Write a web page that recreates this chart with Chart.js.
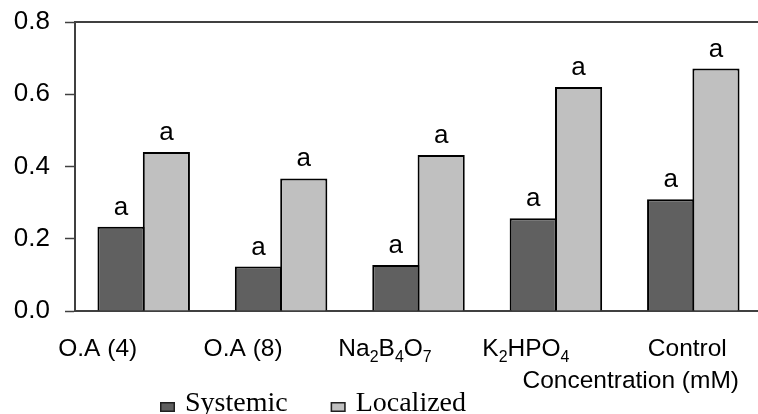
<!DOCTYPE html>
<html>
<head>
<meta charset="utf-8">
<script src="https://cdn.jsdelivr.net/npm/chart.js@4/dist/chart.umd.min.js"></script>
<style>
  html, body { margin: 0; padding: 0; background: #ffffff; overflow: hidden; }
  #wrap { width: 758px; height: 414px; overflow: hidden; position: relative; }
  canvas { display: block; }
</style>
</head>
<body>
<div id="wrap"><canvas id="chart" width="762" height="414"></canvas></div>
<script>
// Treatments on the x axis (subscripts written with Unicode digits)
const categories = ['O.A (4)', 'O.A (8)', 'Na₂B₄O₇', 'K₂HPO₄', 'Control'];

// Series values
const systemic = [0.233, 0.123, 0.127, 0.257, 0.309];
const localized = [0.440, 0.367, 0.432, 0.620, 0.671];

// Significance letters printed above each bar
const systemicLetters = ['a', 'a', 'a', 'a', 'a'];
const localizedLetters = ['a', 'a', 'a', 'a', 'a'];

// Y axis ticks
const yTicks = [0.0, 0.2, 0.4, 0.6, 0.8];

const axisTitle = 'Concentration (mM)';

const SANS = '"Liberation Sans", Arial, sans-serif';
const SERIF = '"Liberation Serif", "Times New Roman", serif';
const AXIS_GREY = '#404040';

const SUB = { '₀': '0', '₁': '1', '₂': '2', '₃': '3', '₄': '4', '₅': '5', '₆': '6', '₇': '7', '₈': '8', '₉': '9' };

// Split a label into normal / subscript runs
function runsOf(text) {
  const runs = [];
  for (const ch of text) {
    const sub = ch in SUB;
    const c = sub ? SUB[ch] : ch;
    const last = runs[runs.length - 1];
    if (last && last.sub === sub) last.text += c; else runs.push({ text: c, sub });
  }
  return runs;
}

function drawRich(ctx, text, cx, baseline, size) {
  const runs = runsOf(text);
  const subSize = size * 0.65;
  let total = 0;
  for (const r of runs) {
    ctx.font = (r.sub ? subSize : size) + 'px ' + SANS;
    r.w = ctx.measureText(r.text).width;
    total += r.w;
  }
  let x = cx - total / 2;
  ctx.textAlign = 'left';
  ctx.textBaseline = 'alphabetic';
  for (const r of runs) {
    ctx.font = (r.sub ? subSize : size) + 'px ' + SANS;
    ctx.fillText(r.text, x, baseline + (r.sub ? size * 0.24 : 0));
    x += r.w;
  }
}

// Frame line, letters above bars, category labels, axis title and legend
const decorations = {
  id: 'decorations',
  afterDatasetsDraw(chart, args, opts) {
    const { ctx, chartArea, scales } = chart;
    ctx.save();

    // top frame line
    ctx.strokeStyle = AXIS_GREY;
    ctx.lineWidth = 2;
    ctx.beginPath();
    ctx.moveTo(chartArea.left, chartArea.top);
    ctx.lineTo(chartArea.right, chartArea.top);
    ctx.stroke();

    // letters above bars
    ctx.fillStyle = '#000';
    ctx.font = '26px ' + SANS;
    ctx.textAlign = 'center';
    ctx.textBaseline = 'alphabetic';
    chart.data.datasets.forEach((ds, di) => {
      const meta = chart.getDatasetMeta(di);
      meta.data.forEach((bar, i) => {
        const letter = ds.letters[i];
        if (letter) ctx.fillText(letter, bar.x, bar.y - 12);
      });
    });

    // category labels
    const x = scales.x;
    categories.forEach((label, i) => {
      const cx = x.getPixelForValue(i) + opts.labelShift[i];
      drawRich(ctx, label, cx, x.top + 45, 24.5);
    });

    // axis title, right side under the labels
    ctx.font = '24.5px ' + SANS;
    ctx.textAlign = 'right';
    ctx.textBaseline = 'alphabetic';
    ctx.fillText(axisTitle, chartArea.right - 23, x.top + 77);

    // legend
    let lx = opts.legendLeft;
    const base = x.top + 99.5;
    chart.data.datasets.forEach(ds => {
      ctx.fillStyle = ds.backgroundColor;
      ctx.fillRect(lx, base - 8.5, 15, 10);
      ctx.strokeStyle = '#202020';
      ctx.lineWidth = 1.5;
      ctx.strokeRect(lx + 0.75, base - 7.75, 13.5, 8.5);
      ctx.fillStyle = '#000';
      ctx.font = '28px ' + SERIF;
      ctx.textAlign = 'left';
      ctx.fillText(ds.label, lx + 25, base);
      lx += 25 + ctx.measureText(ds.label).width + 43;
    });

    ctx.restore();
  }
};

new Chart(document.getElementById('chart'), {
  type: 'bar',
  data: {
    labels: categories,
    datasets: [
      {
        label: 'Systemic',
        data: systemic,
        letters: systemicLetters,
        backgroundColor: '#606060',
        borderColor: '#000000',
        borderWidth: 2,
        borderSkipped: 'bottom'
      },
      {
        label: 'Localized',
        data: localized,
        letters: localizedLetters,
        backgroundColor: '#c0c0c0',
        borderColor: '#000000',
        borderWidth: 2,
        borderSkipped: 'bottom'
      }
    ]
  },
  options: {
    responsive: false,
    animation: false,
    datasets: { bar: { categoryPercentage: 0.66, barPercentage: 1.04 } },
    layout: { padding: { top: 22, right: 0, bottom: 0, left: 0 } },
    plugins: {
      legend: { display: false },
      tooltip: { enabled: false },
      decorations: { labelShift: [-46, -38, -33.5, -30, -6], legendLeft: 160 }
    },
    scales: {
      x: {
        type: 'category',
        offset: true,
        grid: { display: false },
        border: { display: true, color: AXIS_GREY, width: 2 },
        ticks: { display: false },
        afterFit(scale) { scale.height = 103; }
      },
      y: {
        min: 0,
        max: 0.8,
        afterBuildTicks(scale) { scale.ticks = yTicks.map(v => ({ value: v })); },
        afterFit(scale) {
          scale.width = 75;
          scale.paddingTop = 0;
          scale.paddingBottom = 0;
        },
        grid: {
          display: true,
          drawOnChartArea: false,
          drawTicks: true,
          tickLength: 10,
          tickColor: AXIS_GREY,
          tickWidth: 1.5
        },
        border: { display: true, color: AXIS_GREY, width: 2 },
        ticks: {
          padding: 15,
          color: '#000',
          font: { family: SANS, size: 26 },
          callback: v => Number(v).toFixed(1)
        }
      }
    }
  },
  plugins: [decorations]
});
</script>
</body>
</html>
